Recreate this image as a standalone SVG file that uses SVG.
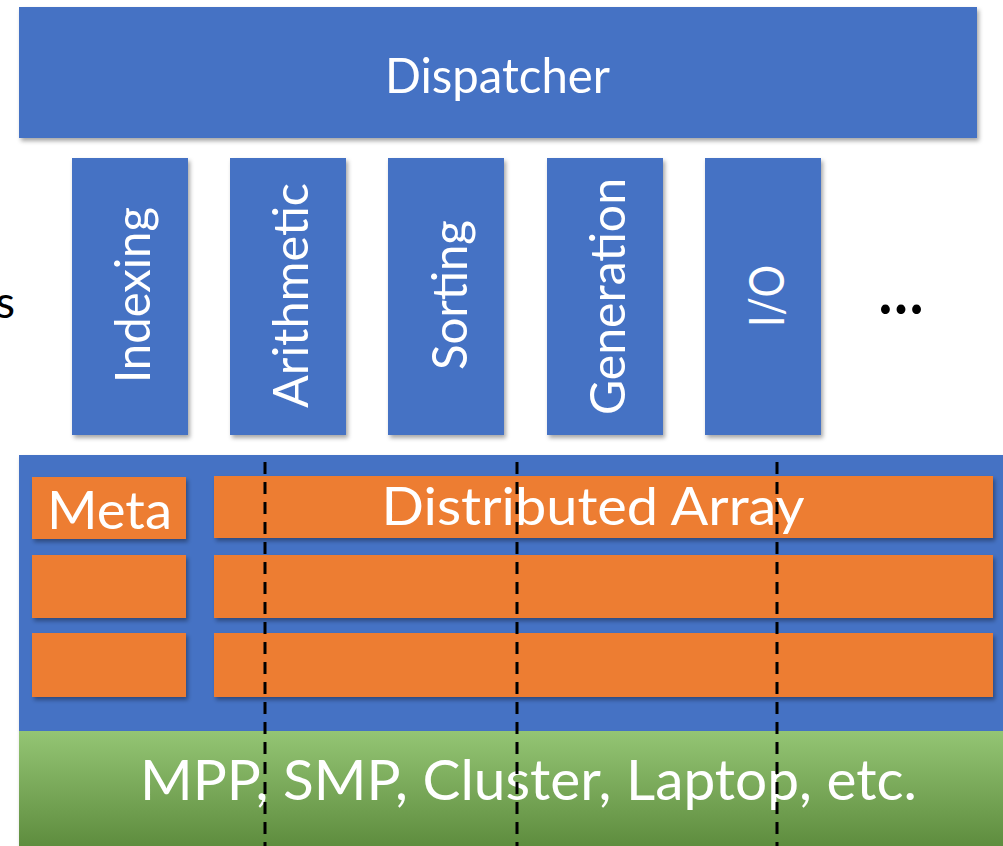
<svg xmlns="http://www.w3.org/2000/svg" width="1003" height="846" viewBox="0 0 1003 846">
<defs>
<filter id="sh" x="-10%" y="-10%" width="120%" height="130%">
<feDropShadow dx="2" dy="3" stdDeviation="2" flood-color="#000" flood-opacity="0.35"/>
</filter>
<linearGradient id="green" x1="0" y1="0" x2="0" y2="1">
<stop offset="0" stop-color="#94C574"/>
<stop offset="1" stop-color="#5C8A3C"/>
</linearGradient>
<style>
.blue{fill:#4472C4}
.orange{fill:#ED7D31}
.t{font-family:Lato,"Open Sans","Liberation Sans",sans-serif;fill:#fff;text-anchor:middle}
.dash{stroke:#000;stroke-width:3;stroke-dasharray:12 8;fill:none}
</style>
</defs>
<rect width="1003" height="846" fill="#fff"/>
<g id="dispatcher">
<rect class="blue" x="19" y="7" width="958" height="131" filter="url(#sh)"/>
<text class="t" x="497.5" y="93" font-size="49" textLength="225" lengthAdjust="spacingAndGlyphs">Dispatcher</text>
</g>
<g id="indexing">
<rect class="blue" x="72" y="158" width="116" height="277" filter="url(#sh)"/>
<text class="t" transform="translate(150,295) rotate(-90)" font-size="49" textLength="176" lengthAdjust="spacingAndGlyphs">Indexing</text>
</g>
<g id="arithmetic">
<rect class="blue" x="230" y="158" width="116" height="277" filter="url(#sh)"/>
<text class="t" transform="translate(308,295.5) rotate(-90)" font-size="49" textLength="225" lengthAdjust="spacingAndGlyphs">Arithmetic</text>
</g>
<g id="sorting">
<rect class="blue" x="388" y="158" width="116" height="277" filter="url(#sh)"/>
<text class="t" transform="translate(467,295) rotate(-90)" font-size="49" textLength="150" lengthAdjust="spacingAndGlyphs">Sorting</text>
</g>
<g id="generation">
<rect class="blue" x="547" y="158" width="116" height="277" filter="url(#sh)"/>
<text class="t" transform="translate(625,296.5) rotate(-90)" font-size="49" textLength="237" lengthAdjust="spacingAndGlyphs">Generation</text>
</g>
<g id="io">
<rect class="blue" x="705" y="158" width="116" height="277" filter="url(#sh)"/>
<text class="t" transform="translate(784,296) rotate(-90)" font-size="49" textLength="62" lengthAdjust="spacingAndGlyphs">I/O</text>
</g>
<g id="labels">
<text x="15" y="318" font-family="Lato,'Open Sans','Liberation Sans',sans-serif" font-size="45" fill="#000" text-anchor="end">s</text>
<text x="901" y="314" font-family="Lato,'Open Sans','Liberation Sans',sans-serif" font-size="64" font-weight="bold" fill="#000" text-anchor="middle" textLength="45" lengthAdjust="spacingAndGlyphs">…</text>
</g>
<g id="runtime">
<rect class="blue" x="19" y="455" width="990" height="400" filter="url(#sh)"/>
</g>
<g id="meta">
<rect class="orange" x="32" y="477" width="154" height="62" filter="url(#sh)"/>
<text class="t" x="109.5" y="529" font-size="52" textLength="125" lengthAdjust="spacingAndGlyphs">Meta</text>
<rect class="orange" x="32" y="555" width="154" height="63" filter="url(#sh)"/>
<rect class="orange" x="32" y="633" width="154" height="64" filter="url(#sh)"/>
</g>
<g id="distributed-array">
<rect class="orange" x="214" y="476" width="779" height="62" filter="url(#sh)"/>
<text class="t" x="593" y="525" font-size="53" textLength="423" lengthAdjust="spacingAndGlyphs">Distributed Array</text>
<rect class="orange" x="214" y="555" width="779" height="63" filter="url(#sh)"/>
<rect class="orange" x="214" y="633" width="779" height="64" filter="url(#sh)"/>
</g>
<g id="platform">
<rect x="19" y="731" width="990" height="120" fill="url(#green)"/>
<text class="t" x="528.5" y="800" font-size="56" textLength="777" lengthAdjust="spacingAndGlyphs">MPP, SMP, Cluster, Laptop, etc.</text>
</g>
<g id="connectors">
<line class="dash" x1="265" y1="462" x2="265" y2="846"/>
<line class="dash" x1="517" y1="462" x2="517" y2="846"/>
<line class="dash" x1="777" y1="462" x2="777" y2="846"/>
</g>
</svg>
